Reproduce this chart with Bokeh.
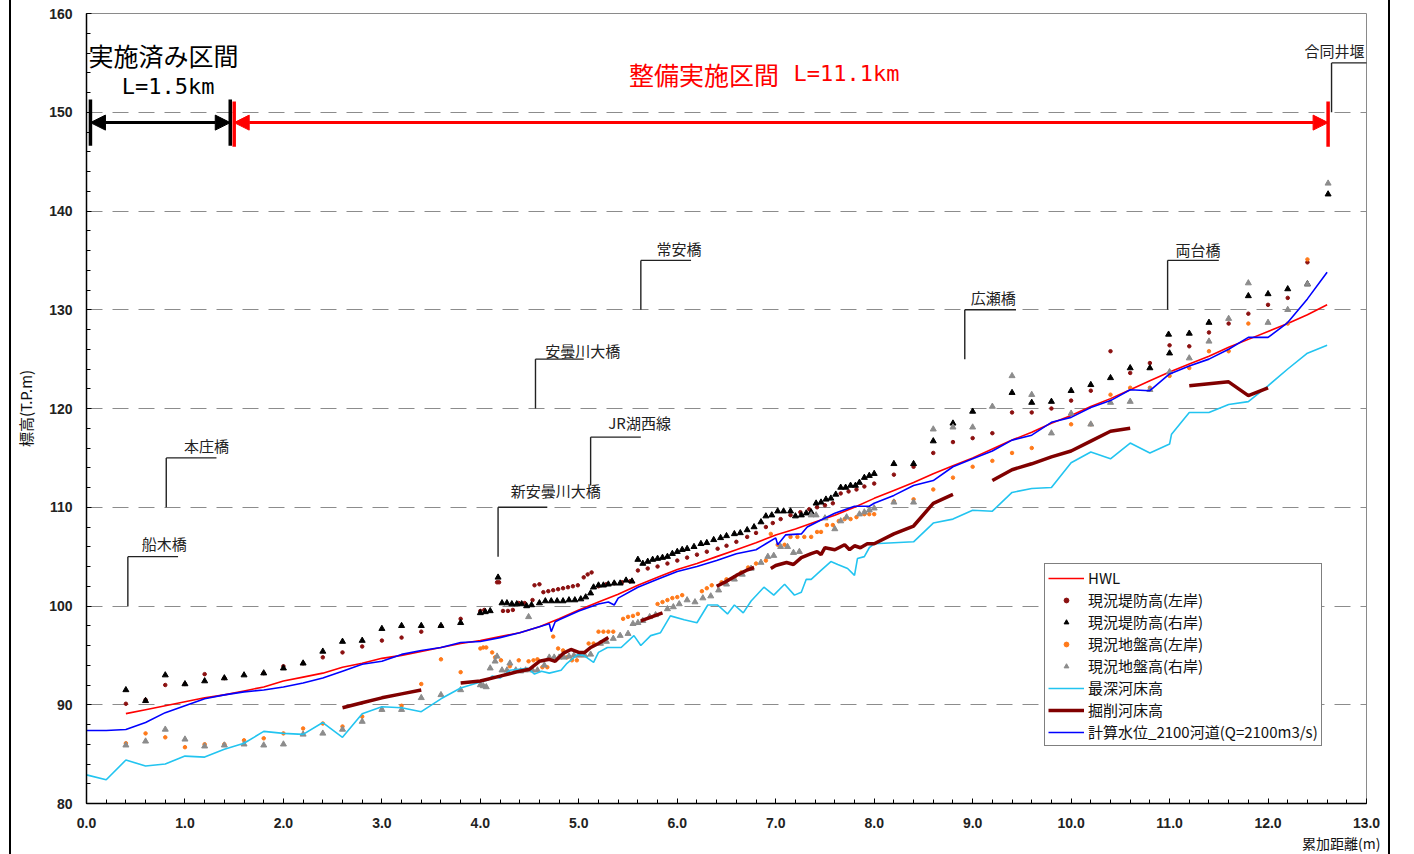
from bokeh.plotting import figure
from bokeh.models import (Range1d, SingleIntervalTicker, PrintfTickFormatter, Arrow,
                          NormalHead, Label, Legend, LegendItem, Title)
from bokeh.core.properties import value
from bokeh.embed import file_html
from bokeh.resources import INLINE

nan = float("nan")
JP = "Noto Sans CJK JP"

# ---- 計画高水位 HWL ----
hwl_km = [0.4, 0.6, 0.8, 1.0, 1.2, 1.4, 1.6, 1.8, 2.0, 2.2,
          2.4, 2.6, 2.8, 3.0, 3.2, 3.4, 3.6, 3.8, 4.0, 4.2,
          4.4, 4.6, 4.8, 5.0, 5.2, 5.4, 5.6, 5.8, 6.0, 6.2,
          6.4, 6.6, 6.8, 7.0, 7.2, 7.4, 7.6, 7.8, 8.0, 8.2,
          8.4, 8.6, 8.8, 9.0, 9.2, 9.4, 9.6, 9.8, 10.0, 10.2,
          10.4, 10.6, 10.8, 11.0, 11.2, 11.4, 11.6, 11.8, 12.0, 12.2,
          12.4, 12.6]
hwl_el = [89.1, 89.5, 89.9, 90.3, 90.7, 91.0, 91.4, 91.8, 92.4, 92.8,
          93.2, 93.8, 94.2, 94.7, 95.0, 95.4, 95.8, 96.2, 96.5, 96.9,
          97.3, 97.9, 98.7, 99.6, 100.4, 101.2, 102.1, 102.9, 103.7, 104.3,
          105.0, 105.7, 106.4, 107.2, 107.8, 108.5, 109.2, 110.0, 110.9, 111.7,
          112.5, 113.4, 114.2, 115.0, 115.9, 116.8, 117.6, 118.5, 119.3, 120.2,
          121.0, 121.9, 122.8, 123.7, 124.5, 125.3, 126.2, 127.0, 127.8, 128.6,
          129.5, 130.5]

# ---- 現況堤防高(左岸) ----
levee_l_km = [0.4, 0.6, 0.8, 1.0, 1.2, 1.4, 1.8, 2.0, 2.2, 2.4,
              2.6, 2.8, 3.0, 3.2, 3.4, 3.6, 3.8, 4.0, 4.04, 4.17,
              4.19, 4.23, 4.28, 4.33, 4.39, 4.45, 4.53, 4.55, 4.6, 4.64,
              4.69, 4.74, 4.79, 4.84, 4.89, 4.94, 4.99, 5.05, 5.09, 5.13,
              5.2, 5.28, 5.36, 5.44, 5.52, 5.6, 5.7, 5.8, 5.9, 6.0,
              6.1, 6.2, 6.3, 6.41, 6.5, 6.6, 6.71, 6.8, 6.9, 6.97,
              7.05, 7.15, 7.25, 7.34, 7.42, 7.5, 7.58, 7.66, 7.74, 7.82,
              7.9, 8.0, 8.2, 8.4, 8.6, 8.8, 9.0, 9.2, 9.4, 9.6,
              9.8, 10.0, 10.2, 10.4, 10.6, 10.8, 11.0, 11.2, 11.4, 11.6,
              11.8, 12.0, 12.2, 12.4]
levee_l_el = [90.1, 90.5, 92.0, 92.1, 93.1, 92.7, 93.2, 93.9, 94.2, 94.8,
              95.3, 95.9, 96.5, 96.8, 97.4, 98.0, 98.7, 99.5, 99.6, 102.4,
              102.4, 99.5, 99.5, 99.6, 100.3, 100.3, 100.6, 102.1, 102.2, 101.4,
              101.5, 101.6, 101.7, 101.8, 101.9, 102.0, 102.1, 102.9, 103.2, 103.4,
              102.0, 102.2, 102.3, 102.4, 102.5, 103.6, 103.8, 104.0, 104.3, 104.6,
              104.9, 105.2, 105.5, 105.8, 106.1, 106.5, 107.0, 107.4, 108.0, 108.4,
              108.8, 109.2, 109.5, 109.8, 110.0, 110.2, 110.4, 111.4, 111.6, 111.8,
              112.1, 112.4, 113.3, 114.1, 115.5, 116.6, 117.0, 117.5, 119.6, 119.6,
              120.0, 120.8, 121.8, 125.8, 123.6, 124.6, 126.4, 126.3, 127.7, 128.6,
              129.6, 130.5, 131.2, 134.8]

# ---- 現況堤防高(右岸) ----
levee_r_km = [0.4, 0.6, 0.8, 1.0, 1.2, 1.4, 1.6, 1.8, 2.0, 2.2,
              2.4, 2.6, 2.8, 3.0, 3.2, 3.4, 3.6, 3.8, 4.0, 4.05,
              4.1, 4.18, 4.22, 4.27, 4.32, 4.37, 4.42, 4.47, 4.52, 4.6,
              4.66, 4.72, 4.78, 4.84, 4.9, 4.96, 5.02, 5.07, 5.12, 5.15,
              5.2, 5.25, 5.3, 5.36, 5.42, 5.48, 5.54, 5.6, 5.65, 5.7,
              5.75, 5.8, 5.85, 5.9, 5.95, 6.0, 6.05, 6.1, 6.17, 6.24,
              6.3, 6.37, 6.44, 6.5, 6.58, 6.64, 6.71, 6.78, 6.85, 6.9,
              6.96, 7.02, 7.08, 7.15, 7.2, 7.26, 7.31, 7.36, 7.41, 7.46,
              7.51, 7.56, 7.61, 7.66, 7.71, 7.76, 7.81, 7.85, 7.9, 7.95,
              8.0, 8.2, 8.4, 8.6, 8.8, 9.0, 9.4, 9.6, 9.8, 10.0,
              10.2, 10.4, 10.6, 10.8, 10.99, 11.0, 11.2, 11.4, 11.8, 12.0,
              12.2, 12.4, 12.61]
levee_r_el = [91.5, 90.4, 93.0, 92.1, 92.4, 92.7, 93.0, 93.2, 93.7, 94.2,
              95.4, 96.4, 96.5, 97.7, 98.0, 98.0, 98.0, 98.3, 99.3, 99.4,
              99.5, 102.9, 100.3, 100.3, 100.2, 100.2, 100.2, 100.0, 100.1, 100.3,
              100.5, 100.5, 100.5, 100.5, 100.6, 100.6, 100.7, 100.9, 101.3, 101.9,
              102.1, 102.1, 102.2, 102.3, 102.3, 102.6, 102.5, 104.7, 104.3, 104.5,
              104.7, 104.8, 104.9, 105.0, 105.3, 105.5, 105.7, 105.8, 106.0, 106.3,
              106.4, 106.7, 106.9, 107.1, 107.3, 107.4, 107.7, 108.0, 108.5, 109.1,
              109.2, 109.6, 109.6, 109.6, 109.1, 109.2, 109.4, 109.5, 110.4, 110.5,
              110.8, 110.9, 111.3, 112.0, 112.0, 112.2, 112.2, 112.5, 113.0, 113.2,
              113.4, 114.4, 114.4, 116.7, 118.5, 119.7, 121.6, 120.6, 120.7, 121.8,
              122.4, 123.1, 124.1, 124.1, 127.5, 125.6, 127.6, 128.7, 131.4, 131.6,
              132.1, 132.6, 141.7]

# ---- 現況地盤高(左岸) ----
ground_l_km = [0.4, 0.6, 0.8, 1.0, 1.2, 1.4, 1.6, 1.8, 2.0, 2.2,
               2.4, 2.6, 2.8, 3.0, 3.2, 3.4, 3.6, 3.8, 4.0, 4.03,
               4.06, 4.12, 4.15, 4.21, 4.3, 4.39, 4.49, 4.54, 4.58, 4.63,
               4.68, 4.74, 4.79, 4.84, 4.88, 4.93, 4.98, 5.1, 5.15, 5.2,
               5.25, 5.3, 5.35, 5.45, 5.5, 5.55, 5.6, 5.8, 5.85, 5.9,
               5.95, 6.0, 6.05, 6.25, 6.3, 6.35, 6.45, 6.5, 6.58, 6.65,
               6.72, 6.8, 6.9, 6.95, 7.02, 7.09, 7.15, 7.22, 7.29, 7.36,
               7.42, 7.46, 7.52, 7.58, 7.64, 7.7, 7.76, 7.82, 7.9, 7.95,
               8.0, 8.2, 8.4, 8.6, 8.8, 9.0, 9.2, 9.4, 9.6, 10.0,
               10.2, 10.4, 10.6, 10.8, 11.0, 11.2, 11.4, 11.6, 11.8, 12.2,
               12.4]
ground_l_el = [86.1, 87.1, 86.7, 85.7, 86.0, 86.0, 86.4, 86.6, 87.1, 87.6,
               88.1, 87.8, 88.8, 89.5, 89.9, 92.1, 94.6, 93.3, 95.7, 95.8,
               95.8, 95.3, 94.8, 94.5, 93.9, 94.5, 94.4, 94.5, 94.6, 93.8,
               93.8, 96.9, 95.7, 95.5, 94.8, 94.5, 94.5, 96.2, 96.2, 97.4,
               97.4, 97.4, 97.4, 98.7, 98.9, 99.0, 99.2, 100.2, 100.4, 100.6,
               100.8, 100.9, 101.1, 101.5, 101.8, 102.1, 102.4, 102.7, 102.9, 103.4,
               103.9, 104.3, 104.6, 107.3, 106.2, 106.2, 107.0, 107.0, 107.0, 107.0,
               107.5, 107.5, 108.2, 108.2, 108.6, 108.8, 108.8, 109.0, 109.3, 109.3,
               109.3, 110.6, 110.8, 111.8, 113.0, 114.1, 114.7, 115.5, 116.0, 118.4,
               118.4, 121.4, 122.1, 122.1, 123.3, 124.1, 125.8, 125.8, 128.6, 128.6,
               135.1]

# ---- 現況地盤高(右岸) ----
ground_r_km = [0.4, 0.6, 0.8, 1.0, 1.2, 1.4, 1.6, 1.8, 2.0, 2.2,
               2.4, 2.6, 2.8, 3.0, 3.2, 3.4, 3.6, 3.8, 4.0, 4.03,
               4.06, 4.1, 4.15, 4.17, 4.22, 4.27, 4.3, 4.36, 4.41, 4.46,
               4.49, 4.53, 4.58, 4.65, 4.7, 4.75, 4.8, 4.85, 4.9, 4.95,
               5.0, 5.06, 5.12, 5.22, 5.28, 5.35, 5.42, 5.5, 5.55, 5.6,
               5.65, 5.72, 5.78, 5.9, 5.96, 6.02, 6.1, 6.18, 6.26, 6.34,
               6.42, 6.5, 6.58, 6.66, 6.75, 6.85, 6.92, 6.98, 7.05, 7.12,
               7.18, 7.24, 7.36, 7.41, 7.5, 7.6, 7.66, 7.72, 7.85, 7.9,
               7.95, 8.0, 8.2, 8.4, 8.6, 8.8, 9.0, 9.2, 9.4, 9.6,
               9.8, 10.0, 10.2, 10.4, 10.6, 10.8, 11.0, 11.2, 11.4, 11.6,
               11.8, 12.0, 12.2, 12.4, 12.61]
ground_r_el = [85.9, 86.3, 87.5, 86.5, 85.8, 85.9, 86.0, 85.9, 86.0, 87.0,
               87.1, 87.5, 88.3, 89.5, 89.5, 90.7, 91.0, 91.5, 92.0, 91.9,
               91.8, 93.7, 94.4, 94.9, 93.5, 93.5, 94.2, 93.5, 93.4, 93.5,
               98.9, 93.5, 93.5, 94.0, 94.8, 94.8, 94.8, 94.8, 94.9, 95.0,
               95.0, 95.0, 95.1, 96.2, 96.4, 96.7, 97.0, 97.2, 98.2, 98.3,
               98.5, 98.9, 99.1, 99.7, 99.9, 100.2, 100.6, 100.4, 100.8, 101.0,
               101.6, 102.2, 102.7, 103.2, 103.8, 104.4, 105.0, 105.1, 106.0, 106.0,
               105.4, 105.5, 109.2, 109.2, 108.9, 107.8, 108.6, 109.0, 109.3, 109.5,
               109.7, 109.9, 110.5, 110.5, 117.9, 118.1, 118.1, 120.2, 123.3, 121.4,
               117.5, 119.5, 118.4, 120.6, 120.7, 121.9, 123.7, 125.1, 126.8, 129.1,
               132.7, 128.7, 130.0, 132.6, 142.8]

# ---- 最深河床高 ----
deep_km = [0.0, 0.2, 0.4, 0.6, 0.8, 1.0, 1.2, 1.4, 1.6, 1.8,
           2.0, 2.2, 2.4, 2.6, 2.8, 3.0, 3.2, 3.4, 3.6, 3.8,
           4.0, 4.08, 4.12, 4.2, 4.3, 4.48, 4.55, 4.62, 4.7, 4.82,
           4.88, 4.99, 5.05, 5.15, 5.2, 5.29, 5.43, 5.56, 5.63, 5.73,
           5.83, 5.93, 6.07, 6.2, 6.31, 6.41, 6.51, 6.58, 6.67, 6.75,
           6.88, 6.98, 7.09, 7.19, 7.26, 7.31, 7.36, 7.46, 7.56, 7.63,
           7.73, 7.8, 7.83, 7.9, 7.95, 8.0, 8.2, 8.4, 8.6, 8.8,
           9.0, 9.2, 9.4, 9.6, 9.8, 10.0, 10.2, 10.4, 10.6, 10.8,
           11.0, 11.02, 11.2, 11.4, 11.6, 11.8, 12.0, 12.2, 12.4, 12.6]
deep_el = [82.9, 82.4, 84.4, 83.8, 84.0, 84.8, 84.7, 85.5, 86.1, 87.3,
           87.1, 87.0, 88.2, 86.7, 89.1, 89.8, 89.7, 89.3, 90.6, 91.7,
           92.3, 92.5, 92.9, 92.7, 93.5, 93.7, 93.1, 93.4, 93.2, 93.5,
           94.2, 95.1, 95.0, 94.3, 95.3, 95.8, 95.8, 97.0, 96.0, 97.0,
           97.3, 99.0, 98.6, 98.3, 100.1, 100.1, 99.2, 100.1, 99.3, 100.5,
           101.9, 101.1, 102.2, 101.1, 101.4, 102.7, 102.7, 103.6, 104.5, 104.2,
           103.8, 103.1, 104.8, 105.0, 105.9, 106.3, 106.4, 106.5, 108.4, 108.8,
           109.7, 109.6, 111.5, 111.9, 112.0, 114.5, 115.6, 114.9, 116.5, 115.5,
           116.4, 117.4, 119.6, 119.6, 120.4, 120.7, 122.3, 124.0, 125.6, 126.4]

# ---- 掘削河床高 (区間ごとに nan で区切る) ----
excav_km = [2.6, 2.8, 3.0, 3.2, 3.4, nan,
            3.8, 4.0, 4.2, 4.4, 4.5, 4.6, 4.7, 4.76, 4.84, 4.92, 5.0, 5.06, 5.12, 5.2, 5.3, nan,
            5.63, 5.85, nan,
            6.4, 6.5, 6.6, 6.7, 6.78, nan,
            6.95, 7.0, 7.11, 7.18, 7.26, 7.36, 7.42, 7.46, 7.5, 7.6, 7.7, 7.75, 7.8, 7.86, 7.93,
            8.0, 8.2, 8.4, 8.6, 8.8, nan,
            9.2, 9.4, 9.6, 9.8, 10.0, 10.2, 10.4, 10.6, nan,
            11.2, 11.4, 11.6, 11.8, 12.0]
excav_el = [89.7, 90.2, 90.7, 91.1, 91.5, nan,
            92.2, 92.4, 92.9, 93.4, 93.6, 94.4, 94.6, 94.4, 95.2, 95.6, 95.3, 95.3, 95.8, 96.2, 96.8, nan,
            98.5, 99.3, nan,
            102.0, 102.5, 103.1, 103.6, 103.9, nan,
            103.8, 104.1, 104.4, 104.2, 104.9, 105.3, 105.5, 105.2, 105.9, 105.7, 106.2, 105.7, 106.1, 105.9, 106.3,
            106.3, 107.3, 108.1, 110.4, 111.3, nan,
            112.7, 113.8, 114.4, 115.1, 115.7, 116.7, 117.7, 118.0, nan,
            122.3, 122.5, 122.7, 121.3, 122.1]

# ---- 計算水位_2100河道 ----
calc_km = [0.0, 0.2, 0.4, 0.6, 0.8, 1.0, 1.2, 1.4, 1.6, 1.8,
           2.0, 2.2, 2.4, 2.6, 2.8, 3.0, 3.2, 3.4, 3.6, 3.8,
           4.0, 4.2, 4.4, 4.6, 4.7, 4.72, 4.76, 4.8, 5.0, 5.2,
           5.3, 5.36, 5.4, 5.6, 5.8, 6.0, 6.2, 6.4, 6.6, 6.8,
           6.9, 7.0, 7.02, 7.1, 7.26, 7.32, 7.46, 7.6, 7.8, 7.95,
           8.0, 8.2, 8.4, 8.6, 8.8, 9.0, 9.2, 9.4, 9.6, 9.8,
           10.0, 10.2, 10.4, 10.6, 10.8, 11.0, 11.2, 11.4, 11.6, 11.8,
           12.0, 12.2, 12.4, 12.6]
calc_el = [87.4, 87.4, 87.5, 88.2, 89.2, 89.9, 90.6, 91.0, 91.3, 91.5,
           91.8, 92.2, 92.7, 93.4, 94.1, 94.4, 95.1, 95.5, 95.8, 96.3,
           96.4, 96.8, 97.3, 97.9, 98.2, 97.4, 98.4, 98.6, 99.5, 100.2,
           100.4, 100.1, 100.8, 101.9, 102.7, 103.5, 104.0, 104.6, 105.3, 105.7,
           106.3, 106.9, 106.2, 107.2, 107.3, 108.0, 108.7, 109.4, 110.1, 110.1,
           110.4, 111.2, 112.2, 112.7, 114.1, 114.9, 115.7, 116.8, 117.3, 118.6,
           119.1, 120.1, 120.8, 121.9, 121.8, 123.5, 124.3, 125.0, 126.0, 127.2,
           127.2, 128.7, 131.1, 133.8]

# ---- 橋梁・堰の位置 ----
bridge_names = ["船木橋", "本庄橋", "新安曇川大橋", "安曇川大橋", "JR湖西線",
                "常安橋", "広瀬橋", "両台橋", "合同井堰"]
bridge_km = [0.42, 0.81, 4.18, 4.56, 5.12, 5.63, 8.92, 10.98, 12.645]
leader_base = [100.0, 110.0, 105.0, 120.0, 112.2, 130.0, 125.0, 130.0, 150.0]
leader_top = [105.0, 115.0, 110.0, 125.0, 117.1, 135.0, 130.0, 135.0, 155.0]
leader_end = [0.93, 1.32, 4.68, 5.05, 5.63, 6.14, 9.44, 11.50, 13.03]
label_km = [0.56, 0.99, 4.31, 4.66, 5.30, 5.79, 8.98, 11.06, 12.37]
label_el = [106.3, 116.3, 111.7, 125.9, 118.6, 136.2, 131.2, 136.1, 156.3]

# 区間表示 (実施済み区間 / 整備実施区間)
done_span = (0.04, 1.46)
plan_span = (1.50, 12.61)
span_el = 148.95

p = figure(width=1381, height=854, x_range=Range1d(0, 13), y_range=Range1d(80, 160),
           output_backend="svg", toolbar_location=None,
           min_border_left=75, min_border_right=26, min_border_top=13, min_border_bottom=51)
p.styles = {"margin-left": "9px", "border-left": "2px solid #000000",
            "border-right": "2px solid #000000"}
p.background_fill_color = "white"
p.border_fill_color = "white"
p.outline_line_color = "#8a8a8a"
p.outline_line_width = 1

# axes
p.xaxis.ticker = SingleIntervalTicker(interval=1, num_minor_ticks=5)
p.yaxis.ticker = SingleIntervalTicker(interval=10, num_minor_ticks=5)
p.xaxis.formatter = PrintfTickFormatter(format="%.1f")
for ax in (p.xaxis[0], p.yaxis[0]):
    ax.axis_line_color = "black"
    ax.axis_line_width = 1.5
    ax.major_tick_in = 5
    ax.major_tick_out = 0
    ax.minor_tick_in = 4
    ax.minor_tick_out = 0
    ax.major_tick_line_color = "black"
    ax.minor_tick_line_color = "black"
    ax.major_label_text_font = "Liberation Sans"
    ax.major_label_text_font_size = "14px"
    ax.major_label_text_font_style = "bold"
    ax.major_label_text_color = "#222222"
p.xaxis.major_label_standoff = 14
p.yaxis.major_label_standoff = 14
p.yaxis.axis_label = "標高(T.P.m)"
p.yaxis.axis_label_text_font = JP
p.yaxis.axis_label_text_font_size = "15px"
p.yaxis.axis_label_text_font_style = "normal"
p.yaxis.axis_label_text_color = "#111111"
p.yaxis.axis_label_standoff = 10

# x axis title at the lower right
p.add_layout(Title(text="累加距離(m)", align="right", offset=-14, standoff=1,
                   text_font=JP, text_font_size="14px", text_font_style="normal",
                   text_color="#111111"), "below")

p.xgrid.visible = False
p.ygrid.grid_line_color = "#8c8c8c"
p.ygrid.grid_line_dash = "16 10"
p.ygrid.grid_line_width = 1

# series (drawing order = legend order)
r_hwl = p.line(hwl_km, hwl_el, line_color="#ff0000", line_width=1.6)
r_ll = p.scatter(levee_l_km, levee_l_el, marker="circle", size=3.5,
                 fill_color="#8b1010", line_color="#8b1010")
r_lr = p.scatter(levee_r_km, levee_r_el, marker="triangle", size=6,
                 fill_color="black", line_color="black")
r_gl = p.scatter(ground_l_km, ground_l_el, marker="circle", size=3.5,
                 fill_color="#ff7a1a", line_color="#ff7a1a")
r_gr = p.scatter(ground_r_km, ground_r_el, marker="triangle", size=6,
                 fill_color="#8c8c8c", line_color="#8c8c8c")
r_deep = p.line(deep_km, deep_el, line_color="#22c4f0", line_width=1.6)
r_exc = p.line(excav_km, excav_el, line_color="#800000", line_width=3.5)
r_calc = p.line(calc_km, calc_el, line_color="#0000ff", line_width=1.6)

# bridge leaders and names
p.segment(x0=bridge_km, y0=leader_base, x1=bridge_km, y1=leader_top,
          line_color="#222222", line_width=1.4)
p.segment(x0=bridge_km, y0=leader_top, x1=leader_end, y1=leader_top,
          line_color="#222222", line_width=1.4)
p.text(x=label_km, y=label_el, text=bridge_names, text_font=value(JP),
       text_font_size="15px", text_align="left", text_baseline="middle",
       text_color="#222222")

# section arrows
p.segment(x0=list(done_span), y0=[146.6, 146.6], x1=list(done_span), y1=[151.3, 151.3],
          line_color="black", line_width=3.5)
p.segment(x0=list(plan_span), y0=[146.5, 146.5], x1=list(plan_span), y1=[151.1, 151.1],
          line_color="#ff0000", line_width=3.5)
p.add_layout(Arrow(start=NormalHead(size=15, fill_color="black", line_color="black"),
                   end=NormalHead(size=15, fill_color="black", line_color="black"),
                   x_start=done_span[0], x_end=done_span[1], y_start=span_el, y_end=span_el,
                   line_color="black", line_width=3))
p.add_layout(Arrow(start=NormalHead(size=15, fill_color="#ff0000", line_color="#ff0000"),
                   end=NormalHead(size=15, fill_color="#ff0000", line_color="#ff0000"),
                   x_start=plan_span[0], x_end=plan_span[1], y_start=span_el, y_end=span_el,
                   line_color="#ff0000", line_width=3))

p.add_layout(Label(x=0.02, y=155.75, text="実施済み区間", text_font=JP,
                   text_font_size="25px", text_baseline="middle", text_color="black"))
p.add_layout(Label(x=0.83, y=152.6, text="L=1.5km", text_font="DejaVu Sans Mono",
                   text_font_size="22px", text_align="center", text_baseline="middle",
                   text_color="black"))
p.add_layout(Label(x=5.51, y=153.9, text="整備実施区間", text_font=JP,
                   text_font_size="25px", text_baseline="middle", text_color="#ff0000"))
p.add_layout(Label(x=7.18, y=153.9, text="L=11.1km", text_font="DejaVu Sans Mono",
                   text_font_size="22px", text_baseline="middle", text_color="#ff0000"))

legend = Legend(items=[
    LegendItem(label="HWL", renderers=[r_hwl]),
    LegendItem(label="現況堤防高(左岸)", renderers=[r_ll]),
    LegendItem(label="現況堤防高(右岸)", renderers=[r_lr]),
    LegendItem(label="現況地盤高(左岸)", renderers=[r_gl]),
    LegendItem(label="現況地盤高(右岸)", renderers=[r_gr]),
    LegendItem(label="最深河床高", renderers=[r_deep]),
    LegendItem(label="掘削河床高", renderers=[r_exc]),
    LegendItem(label="計算水位_2100河道(Q=2100m3/s)", renderers=[r_calc]),
], location=(958, 57))
legend.label_text_font = JP
legend.label_text_font_size = "15px"
legend.label_text_color = "#111111"
legend.glyph_width = 36
legend.glyph_height = 12
legend.label_height = 21
legend.label_standoff = 4
legend.spacing = 1
legend.padding = 3
legend.margin = 0
legend.border_line_color = "black"
legend.border_line_width = 1
legend.background_fill_color = "white"
legend.background_fill_alpha = 1
p.add_layout(legend)

open("out.html", "w").write(file_html(p, INLINE, title="安曇川 縦断図"))
